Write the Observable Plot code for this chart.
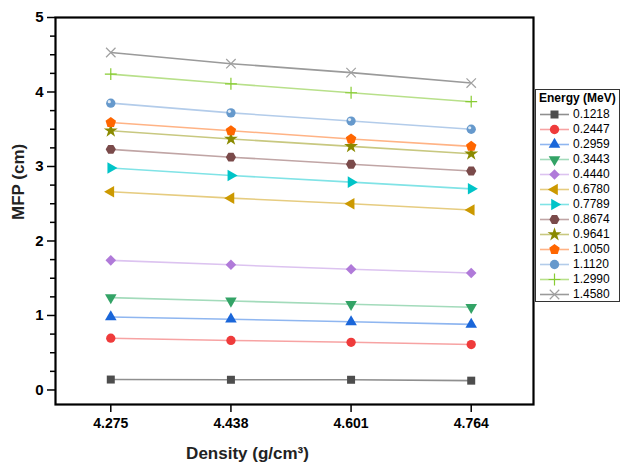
<!DOCTYPE html>
<html>
<head>
<meta charset="utf-8">
<script src="https://cdn.jsdelivr.net/npm/d3@7"></script>
<script src="https://cdn.jsdelivr.net/npm/@observablehq/plot@0.6"></script>
<style>
  body { margin: 0; background: #fff; }
  #wrap { position: relative; width: 623px; height: 470px; font-family: "Liberation Sans", Arial, sans-serif; }
  #legend { position: absolute; left: 535px; top: 89px; width: 85px; height: 213px; border: 1.5px solid #333; box-sizing: border-box; background: #fff; font-size: 12px; color: #000; }
  #legend .ttl { font-weight: bold; font-size: 12px; padding: 1px 0 0 3px; height: 16px; line-height: 14px; }
  #legend .row { display: flex; align-items: center; height: 15px; }
  #legend svg { display: block; margin-left: 2px; }
  #legend span { margin-left: 3px; line-height: 15px; }
</style>
</head>
<body>
<div id="wrap"><div id="chart"></div><div id="legend"></div></div>
<script>
// ---- data ----
const densities = [4.275, 4.438, 4.601, 4.764];
const energyLabels = ["0.1218","0.2447","0.2959","0.3443","0.4440","0.6780","0.7789","0.8674","0.9641","1.0050","1.1120","1.2990","1.4580"];
const mfp_01218 = [0.14, 0.137, 0.137, 0.125];
const mfp_02447 = [0.695, 0.665, 0.64, 0.61];
const mfp_02959 = [0.98, 0.95, 0.915, 0.88];
const mfp_03443 = [1.24, 1.195, 1.15, 1.11];
const mfp_04440 = [1.74, 1.68, 1.62, 1.57];
const mfp_06780 = [2.66, 2.575, 2.50, 2.415];
const mfp_07789 = [2.98, 2.88, 2.79, 2.70];
const mfp_08674 = [3.23, 3.125, 3.03, 2.94];
const mfp_09641 = [3.48, 3.37, 3.27, 3.17];
const mfp_10050 = [3.59, 3.48, 3.37, 3.27];
const mfp_11120 = [3.85, 3.72, 3.61, 3.50];
const mfp_12990 = [4.24, 4.11, 3.99, 3.87];
const mfp_14580 = [4.53, 4.38, 4.26, 4.12];
const seriesValues = [mfp_01218, mfp_02447, mfp_02959, mfp_03443, mfp_04440, mfp_06780, mfp_07789, mfp_08674, mfp_09641, mfp_10050, mfp_11120, mfp_12990, mfp_14580];
const yTicks = [0, 1, 2, 3, 4, 5];

// ---- styles ----
const markerColors = ["#4d4d4d","#ef3b3b","#1a66d9","#33a366","#b07ad9","#cc9900","#00c4c8","#7a4a4a","#8a8a00","#ff6600","#6699cc","#88cc33","#a0a0a0"];
const lineColors   = ["#8f8f8f","#f7a3a3","#8fb6f0","#a3dbbb","#dcc3f0","#e6cc80","#80e3e6","#c0a5a5","#c8c880","#ffb385","#b3ccea","#b8e08a","#9a9a9a"];

const s3 = Math.sqrt(3);
const triDown = { draw(c, size) { const y = -Math.sqrt(size / (s3 * 3)); c.moveTo(0, -y * 2); c.lineTo(-s3 * y, y); c.lineTo(s3 * y, y); c.closePath(); } };
const triLeft = { draw(c, size) { const y = -Math.sqrt(size / (s3 * 3)); c.moveTo(y * 2, 0); c.lineTo(-y, -s3 * y); c.lineTo(-y, s3 * y); c.closePath(); } };
const triRight = { draw(c, size) { const y = -Math.sqrt(size / (s3 * 3)); c.moveTo(-y * 2, 0); c.lineTo(y, -s3 * y); c.lineTo(y, s3 * y); c.closePath(); } };
const pentagon = { draw(c, size) { const r = Math.sqrt(size / 2.3776); for (let k = 0; k < 5; k++) { const a = -Math.PI / 2 + k * 2 * Math.PI / 5; const px = r * Math.cos(a), py = r * Math.sin(a); if (k === 0) c.moveTo(px, py); else c.lineTo(px, py); } c.closePath(); } };
const hexagon = { draw(c, size) { const r = Math.sqrt(size / 2.598); for (let k = 0; k < 6; k++) { const a = k * Math.PI / 3; const px = r * Math.cos(a), py = r * Math.sin(a); if (k === 0) c.moveTo(px, py); else c.lineTo(px, py); } c.closePath(); } };
const diamond = { draw(c, size) { const r = Math.sqrt(size / 2); c.moveTo(0, -r); c.lineTo(r, 0); c.lineTo(0, r); c.lineTo(-r, 0); c.closePath(); } };
const symbols = [d3.symbolSquare, d3.symbolCircle, d3.symbolTriangle, triDown, diamond, triLeft, triRight, hexagon, d3.symbolStar, pentagon, d3.symbolCircle, d3.symbolPlus, d3.symbolTimes];
const sizes = [64, 68, 58, 58, 56, 58, 58, 68, 60, 72, 68, 48, 60];
const strokeOnly = [false,false,false,false,false,false,false,false,false,false,false,true,true];

const rows = [];
seriesValues.forEach((vals, i) => vals.forEach((v, j) => rows.push({ i, energy: energyLabels[i], density: densities[j], mfp: v })));

const marks = [];
energyLabels.forEach((e, i) => {
  const d = rows.filter(r => r.i === i);
  marks.push(Plot.line(d, { x: "density", y: "mfp", stroke: lineColors[i], strokeWidth: 1.6 }));
});
energyLabels.forEach((e, i) => {
  const d = rows.filter(r => r.i === i);
  const r = Math.sqrt(sizes[i] / Math.PI);
  if (strokeOnly[i]) {
    marks.push(Plot.dot(d, { x: "density", y: "mfp", symbol: symbols[i], r, fill: "none", stroke: markerColors[i], strokeWidth: 1.2 }));
  } else {
    marks.push(Plot.dot(d, { x: "density", y: "mfp", symbol: symbols[i], r, fill: markerColors[i], stroke: "none" }));
  }
  if (i === 10) marks.push(Plot.dot(d, { x: "density", y: "mfp", r: 1.6, dx: -1.5, dy: -1.5, fill: "#fff", fillOpacity: 0.8 }));
});

const minorY = d3.range(0.25, 5, 0.25).filter(v => Math.abs(v - Math.round(v)) > 1e-6);

const chart = Plot.plot({
  width: 623,
  height: 470,
  marginLeft: 55,
  marginTop: 17,
  marginBottom: 66,
  marginRight: 90,
  style: { fontFamily: '"Liberation Sans", Arial, sans-serif', fontWeight: "bold", color: "#000", background: "#fff" },
  x: { domain: [4.2, 4.8485], label: null },
  y: { domain: [-0.195, 5], label: null },
  marks: [
    ...marks,
    Plot.axisY(minorY, { tickSize: 5, tickFormat: () => "", strokeWidth: 1.5 }),
    Plot.axisY(yTicks, { tickSize: 8, tickPadding: 4, tickFormat: d3.format("d"), strokeWidth: 1.5, fontSize: 15, fontWeight: "bold" }),
    Plot.axisX(densities, { tickSize: 8, tickPadding: 6, tickFormat: d3.format(".3f"), strokeWidth: 1.5, fontSize: 14, fontWeight: "bold" }),
    Plot.frame({ stroke: "#000", strokeWidth: 2.2 }),
    Plot.text(["Density (g/cm³)"], { frameAnchor: "bottom", dy: 54, dx: -47, fontSize: 17, fontWeight: "bold", fill: "#222" }),
    Plot.text(["MFP (cm)"], { frameAnchor: "left", dx: -37, dy: 9, rotate: -90, fontSize: 17, fontWeight: "bold", fill: "#222" })
  ]
});
document.getElementById("chart").appendChild(chart);

// ---- legend ----
const leg = d3.select("#legend");
leg.append("div").attr("class", "ttl").text("Energy (MeV)");
energyLabels.forEach((e, i) => {
  const row = leg.append("div").attr("class", "row");
  const svg = row.append("svg").attr("width", 32).attr("height", 15);
  svg.append("line").attr("x1", 2).attr("x2", 31).attr("y1", 7.5).attr("y2", 7.5).attr("stroke", lineColors[i]).attr("stroke-width", 1.6);
  const p = svg.append("path").attr("transform", "translate(16.5,7.5)").attr("d", d3.symbol(symbols[i], sizes[i])());
  if (strokeOnly[i]) p.attr("fill", "none").attr("stroke", markerColors[i]).attr("stroke-width", 1.2);
  else p.attr("fill", markerColors[i]);
  row.append("span").text(e);
});
</script>
</body>
</html>
